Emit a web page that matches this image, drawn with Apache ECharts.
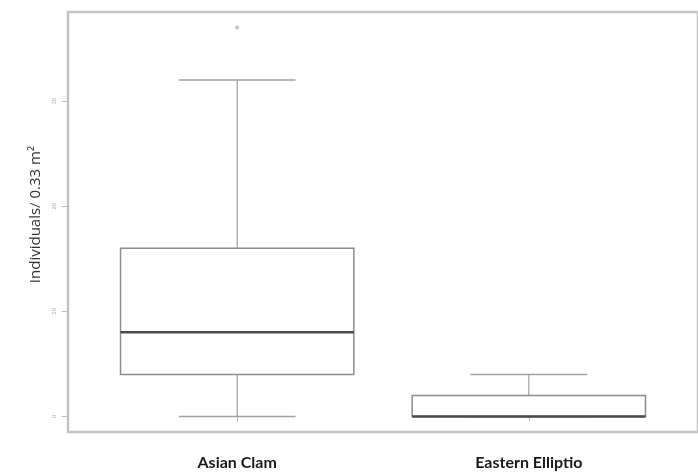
<!DOCTYPE html>
<html>
<head>
<meta charset="utf-8">
<script src="https://cdn.jsdelivr.net/npm/echarts@6/dist/echarts.min.js"></script>
<style>html,body{margin:0;padding:0;background:#fff;}#c{width:698px;height:475px;}</style>
</head>
<body>
<div id="c"></div>
<script>
// Data
var categories = ['Asian Clam', 'Eastern Elliptio'];
var whiskerLow = [0, 0];
var quartile1 = [4, 0];
var medians = [8, 0];
var quartile3 = [16, 2];
var whiskerHigh = [32, 4];
var outliers = [[1, 37]];
var yTicks = [0, 10, 20, 30];

var boxData = categories.map(function (c, i) {
  return [i + 1, whiskerLow[i], quartile1[i], medians[i], quartile3[i], whiskerHigh[i]];
});

var chart = echarts.init(document.getElementById('c'), null, {renderer: 'canvas'});

function renderBox(params, api) {
  var x = api.value(0);
  var lo = api.coord([x, api.value(1)]);
  var q1 = api.coord([x, api.value(2)]);
  var md = api.coord([x, api.value(3)]);
  var q3 = api.coord([x, api.value(4)]);
  var hi = api.coord([x, api.value(5)]);
  var boxW = api.size([0.8, 0])[0];
  var capW = api.size([0.4, 0])[0];
  var cx = lo[0];
  return {
    type: 'group',
    children: [
      {type: 'line', shape: {x1: cx, y1: hi[1], x2: cx, y2: q3[1]}, style: {stroke: '#a0a0a0', lineWidth: 1.2}},
      {type: 'line', shape: {x1: cx, y1: q1[1], x2: cx, y2: lo[1]}, style: {stroke: '#a0a0a0', lineWidth: 1.2}},
      {type: 'line', shape: {x1: cx - capW / 2, y1: hi[1], x2: cx + capW / 2, y2: hi[1]}, style: {stroke: '#a0a0a0', lineWidth: 1.5}},
      {type: 'line', shape: {x1: cx - capW / 2, y1: lo[1], x2: cx + capW / 2, y2: lo[1]}, style: {stroke: '#a0a0a0', lineWidth: 1.5}},
      {type: 'rect', shape: {x: cx - boxW / 2, y: q3[1], width: boxW, height: q1[1] - q3[1]}, style: {stroke: '#8c8c8c', lineWidth: 1.5, fill: '#fff'}},
      {type: 'line', shape: {x1: cx - boxW / 2, y1: md[1], x2: cx + boxW / 2, y2: md[1]}, style: {stroke: '#4a4a4a', lineWidth: 2.5}}
    ]
  };
}

chart.setOption({
  animation: false,
  backgroundColor: '#fff',
  grid: {left: 68, right: -3, top: 12, bottom: 43, show: true, borderColor: '#c4c4c4', borderWidth: 2.5, backgroundColor: '#fff'},
  xAxis: {
    type: 'value', min: 0.42, max: 2.58,
    splitLine: {show: false},
    axisLine: {show: false},
    axisTick: {show: true, length: 5, lineStyle: {color: '#bbb'}, customValues: [1, 2]},
    axisLabel: {
      customValues: [1, 2],
      margin: 23,
      formatter: function (v) { return categories[Math.round(v) - 1] || ''; },
      fontFamily: 'Lato', fontWeight: 'bold', fontSize: 16, color: '#1a1a1a'
    }
  },
  yAxis: {
    type: 'value', min: -1.48, max: 38.48,
    name: 'Individuals/ 0.33 m²',
    nameLocation: 'middle', nameGap: 24, nameRotate: 90,
    nameTextStyle: {fontFamily: 'Open Sans', fontSize: 15, color: '#333', padding: [0, 0, 0, 15]},
    splitLine: {show: false},
    axisLine: {show: false},
    axisTick: {show: true, length: 6, lineStyle: {color: '#bbb'}, customValues: yTicks},
    axisLabel: {customValues: yTicks, rotate: 90, fontSize: 6, color: '#aaa', margin: 11, fontFamily: 'Liberation Sans'}
  },
  series: [
    {type: 'custom', renderItem: renderBox, data: boxData, encode: {x: 0, y: [1, 2, 3, 4, 5]}, z: 2},
    {type: 'scatter', data: outliers, symbol: 'circle', symbolSize: 4, itemStyle: {color: '#b5b5b5'}, z: 3}
  ]
});
</script>
</body>
</html>
